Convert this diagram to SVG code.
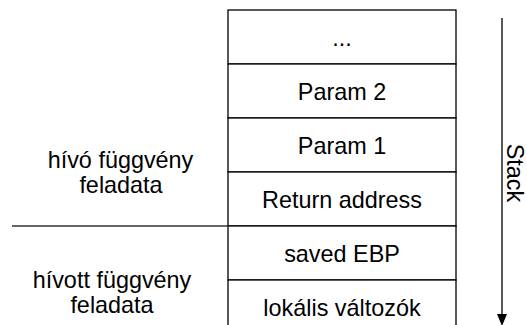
<svg xmlns="http://www.w3.org/2000/svg" width="527" height="325" viewBox="0 0 527 325">
<style>
.t{font-family:"Liberation Sans",Arial,sans-serif;font-size:23.4px;fill:#000;text-anchor:middle}
.box{fill:#fff;stroke:#000;stroke-width:1.3}
</style>
<defs>
<marker id="ah" markerWidth="12" markerHeight="12" refX="10" refY="5" orient="auto" markerUnits="userSpaceOnUse">
<path d="M0,0 L12,5 L0,10 Z" fill="#000"/>
</marker>
</defs>
<rect width="527" height="325" fill="#fff"/>
<g id="row1"><rect class="box" x="228" y="10" width="228" height="54"/><text class="t" x="342" y="45.5">...</text></g>
<g id="row2"><rect class="box" x="228" y="64" width="228" height="54"/><text class="t" x="342" y="99.5">Param 2</text></g>
<g id="row3"><rect class="box" x="228" y="118" width="228" height="54"/><text class="t" x="342" y="153.5">Param 1</text></g>
<g id="row4"><rect class="box" x="228" y="172" width="228" height="54"/><text class="t" x="342" y="207.5">Return address</text></g>
<g id="row5"><rect class="box" x="228" y="226" width="228" height="54"/><text class="t" x="342" y="261.5">saved EBP</text></g>
<g id="row6"><rect class="box" x="228" y="280" width="228" height="54"/><text class="t" x="342" y="315.5">lokális változók</text></g>
<g id="caller"><text class="t" x="120.5" y="167.5">hívó függvény</text><text class="t" x="121" y="193">feladata</text></g>
<g id="callee"><text class="t" x="112" y="288">hívott függvény</text><text class="t" x="112" y="313">feladata</text></g>
<g id="stack-label"><text class="t" transform="translate(507,173) rotate(90)">Stack</text></g>
<g id="connectors">
<line x1="12" y1="226" x2="228" y2="226" stroke="#333" stroke-width="1.3"/>
<line x1="502" y1="18" x2="502" y2="324" stroke="#000" stroke-width="1.3" marker-end="url(#ah)"/>
</g>
</svg>
